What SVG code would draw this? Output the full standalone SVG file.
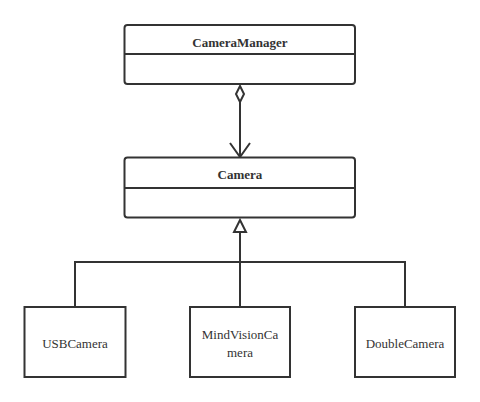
<svg xmlns="http://www.w3.org/2000/svg" width="480" height="402" viewBox="0 0 480 402">
<style>
.box{fill:#fff;stroke:#333;stroke-width:2}
.ln{fill:none;stroke:#333;stroke-width:2}
.t{font-family:"Liberation Serif","Times New Roman",serif;font-size:13px;fill:#333;text-anchor:middle}
.b{font-weight:bold}
</style>
<rect width="480" height="402" fill="#fff"/>
<g id="connectors">
<line class="ln" x1="240" y1="102" x2="240" y2="157"/>
<polygon points="240,86 244,94 240,102 236,94" fill="#fff" stroke="#333" stroke-width="2"/>
<polyline class="ln" points="230,143 240,157 250,143"/>
<polyline class="ln" points="75,307 75,262 405,262 405,307"/>
<line class="ln" x1="240" y1="307" x2="240" y2="232"/>
<polygon points="240,220 246,232 234,232" fill="#fff" stroke="#333" stroke-width="2"/>
</g>
<g id="CameraManager">
<rect class="box" x="124.5" y="25" width="230.5" height="59" rx="3"/>
<line class="ln" x1="124.5" y1="54" x2="355" y2="54"/>
<text class="t b" x="240" y="47">CameraManager</text>
</g>
<g id="Camera">
<rect class="box" x="124.5" y="157.5" width="230.5" height="60" rx="3"/>
<line class="ln" x1="124.5" y1="188" x2="355" y2="188"/>
<text class="t b" x="240" y="179">Camera</text>
</g>
<g id="USBCamera">
<rect class="box" x="24.5" y="307" width="101" height="70"/>
<text class="t" x="75" y="348">USBCamera</text>
</g>
<g id="MindVisionCamera">
<rect class="box" x="190" y="307" width="100" height="70"/>
<text class="t" x="240" y="339">MindVisionCa</text>
<text class="t" x="240" y="357">mera</text>
</g>
<g id="DoubleCamera">
<rect class="box" x="355" y="307" width="100" height="70"/>
<text class="t" x="405" y="348">DoubleCamera</text>
</g>
</svg>
